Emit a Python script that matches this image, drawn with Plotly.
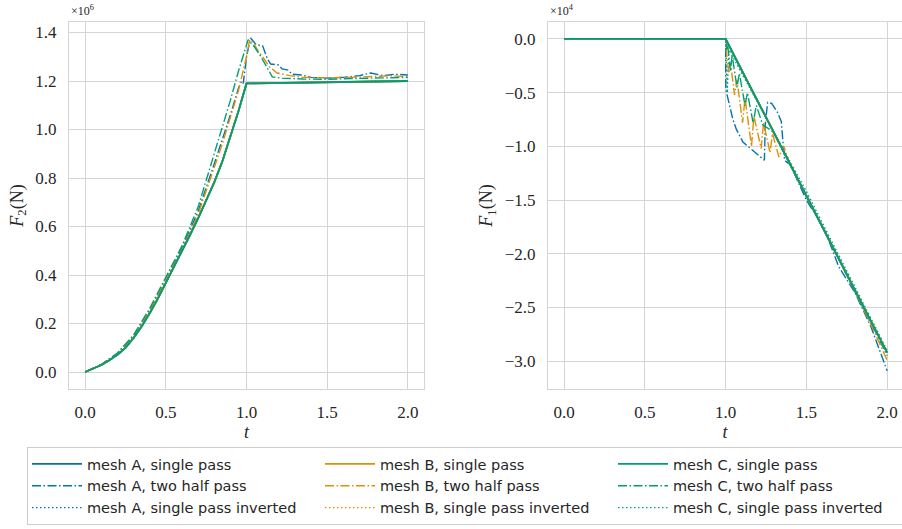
import plotly.graph_objects as go

# ---------------- data ----------------
# F2 (units of 1e6 N) versus t
t_rise = [0.00, 0.05, 0.10, 0.15, 0.20, 0.25, 0.30, 0.35, 0.40, 0.45, 0.50,
          0.55, 0.60, 0.65, 0.70, 0.75, 0.80, 0.85, 0.90, 0.95, 1.00,
          1.25, 1.50, 1.75, 2.00]
f2_single = [0.000, 0.013, 0.029, 0.048, 0.071, 0.099, 0.140, 0.188, 0.242, 0.302, 0.367,
             0.432, 0.498, 0.565, 0.634, 0.705, 0.782, 0.868, 0.968, 1.075, 1.190,
             1.192, 1.195, 1.198, 1.200]

t2_A = [0.00, 0.10, 0.20, 0.30, 0.40, 0.50, 0.60, 0.70, 0.80, 0.85, 0.90, 0.95, 0.97,
        0.98, 1.00, 1.025, 1.06, 1.10, 1.13, 1.15, 1.20, 1.22, 1.26, 1.28, 1.34,
        1.40, 1.50, 1.60, 1.70, 1.77, 1.85, 1.92, 2.00]
f2_two_A = [0.000, 0.030, 0.075, 0.148, 0.255, 0.380, 0.512, 0.662, 0.858, 0.955, 1.060,
            1.170, 1.200, 1.190, 1.300, 1.377, 1.350, 1.345, 1.290, 1.270, 1.266, 1.250,
            1.245, 1.228, 1.225, 1.215, 1.212, 1.215, 1.222, 1.233, 1.222, 1.228, 1.225]

t2_B = [0.00, 0.10, 0.20, 0.30, 0.40, 0.50, 0.60, 0.70, 0.80, 0.85, 0.90, 0.95,
        1.00, 1.02, 1.04, 1.075, 1.10, 1.14, 1.19, 1.27, 1.35, 1.50, 1.65, 1.80,
        1.90, 2.00]
f2_two_B = [0.000, 0.030, 0.076, 0.150, 0.254, 0.378, 0.505, 0.650, 0.840, 0.940, 1.050,
            1.160, 1.300, 1.370, 1.360, 1.320, 1.300, 1.260, 1.233, 1.222, 1.215, 1.213,
            1.215, 1.218, 1.222, 1.218]

t2_C = [0.00, 0.10, 0.20, 0.30, 0.40, 0.50, 0.60, 0.70, 0.80, 0.85, 0.90, 0.95,
        1.00, 1.01, 1.05, 1.09, 1.16, 1.22, 1.35, 1.50, 1.65, 1.80, 1.90, 2.00]
f2_two_C = [0.000, 0.031, 0.078, 0.152, 0.262, 0.388, 0.520, 0.680, 0.900, 1.000, 1.120,
            1.240, 1.350, 1.370, 1.340, 1.300, 1.217, 1.212, 1.208, 1.207, 1.210, 1.212,
            1.214, 1.215]

# F1 (units of 1e4 N) versus t
t1_single = [0.0, 1.0, 1.5, 2.0]
f1_single = [0.0, 0.0, -1.46, -2.92]

t1_A = [0.0, 1.0, 1.001, 1.025, 1.045, 1.066, 1.097, 1.107, 1.24, 1.245, 1.26, 1.285,
        1.32, 1.345, 1.35, 1.357, 1.365, 1.40, 1.50, 1.60, 1.65, 1.70, 1.80, 1.90,
        1.95, 2.00]
f1_two_A = [0.0, 0.0, -0.47, -0.62, -0.75, -0.84, -0.93, -0.96, -1.13, -0.80, -0.59,
            -0.60, -0.68, -0.77, -0.87, -1.03, -1.13, -1.17, -1.50, -1.74, -1.92, -2.12,
            -2.36, -2.68, -2.88, -3.09]

t1_B = [0.0, 1.0, 1.005, 1.02, 1.03, 1.055, 1.07, 1.105, 1.12, 1.16, 1.175, 1.22,
        1.235, 1.275, 1.29, 1.33, 1.36, 1.40, 1.50, 1.60, 1.70, 1.80, 1.90, 2.00]
f1_two_B = [0.0, 0.0, -0.12, -0.32, -0.22, -0.52, -0.38, -0.78, -0.55, -1.00, -0.72,
            -1.02, -0.78, -1.06, -0.88, -1.10, -1.00, -1.18, -1.46, -1.75, -2.05, -2.35,
            -2.66, -2.99]

t1_C = [0.0, 1.0, 1.005, 1.01, 1.03, 1.04, 1.07, 1.085, 1.12, 1.135, 1.17, 1.19,
        1.23, 1.28, 1.30, 1.40, 1.50, 1.60, 1.70, 1.80, 1.90, 2.00]
f1_two_C = [0.0, 0.0, -0.10, -0.02, -0.30, -0.15, -0.45, -0.32, -0.62, -0.50, -0.78,
            -0.62, -0.80, -0.85, -0.88, -1.17, -1.47, -1.76, -2.05, -2.35, -2.64, -2.95]

t1_inv_C = [0.0, 1.0, 1.01, 1.02, 1.5, 2.0]
f1_inv_C = [0.0, 0.0, -0.50, -0.10, -1.42, -2.90]

meshes = ["A", "B", "C"]
colors = {"A": "#0173b2", "B": "#de8f05", "C": "#029e73"}

left_two = {"A": (t2_A, f2_two_A), "B": (t2_B, f2_two_B), "C": (t2_C, f2_two_C)}
right_two = {"A": (t1_A, f1_two_A), "B": (t1_B, f1_two_B), "C": (t1_C, f1_two_C)}
left_inv = {m: (t_rise, f2_single) for m in meshes}
right_inv = {"A": (t1_single, f1_single), "B": (t1_single, f1_single),
             "C": (t1_inv_C, f1_inv_C)}
left_single = {m: (t_rise, f2_single) for m in meshes}
right_single = {m: (t1_single, f1_single) for m in meshes}

# (label, dash pattern, width, left data, right data, position inside a legend column)
styles = [
    ("single pass inverted", "1.5px,2.5px", 1.4, left_inv, right_inv, 2),
    ("two half pass", "9px,2.5px,1.5px,2.5px", 1.4, left_two, right_two, 1),
    ("single pass", "solid", 1.8, left_single, right_single, 0),
]

fig = go.Figure()
for label, dash, width, ldata, rdata, row in styles:
    for j, m in enumerate(meshes):
        name = f"mesh {m}, {label}"
        lx, ly = ldata[m]
        rx, ry = rdata[m]
        fig.add_trace(go.Scatter(
            x=lx, y=ly, mode="lines", name=name, legendgroup=f"mesh {m}",
            legendrank=j * 3 + row + 1,
            line=dict(color=colors[m], width=width, dash=dash),
            xaxis="x", yaxis="y"))
        fig.add_trace(go.Scatter(
            x=rx, y=ry, mode="lines", name=name, legendgroup=f"mesh {m}",
            showlegend=False,
            line=dict(color=colors[m], width=width, dash=dash),
            xaxis="x2", yaxis="y2"))

W, H = 902, 529
grid = "#d5d5d5"
SERIF = "Liberation Serif"
TXT = "#262626"


def px_x(p):
    return p / W


def px_y(p):
    return 1 - p / H


def axis(domain, rng, dtick, anchor, mirror, title, standoff):
    return dict(
        domain=domain, range=rng, dtick=dtick, anchor=anchor, mirror=mirror,
        showgrid=True, gridcolor=grid, gridwidth=1, zeroline=False,
        showline=True, linecolor=grid, linewidth=1, ticks="",
        tickfont=dict(family=SERIF, size=17, color=TXT),
        tickformat=".1f", ticklabelstandoff=8, automargin=False,
        title=dict(text=title, font=dict(family=SERIF, size=18, color=TXT),
                   standoff=standoff),
    )


fig.update_layout(
    width=W, height=H,
    margin=dict(l=0, r=0, t=0, b=0, autoexpand=False),
    paper_bgcolor="white", plot_bgcolor="white",
    showlegend=True,
    xaxis=axis([px_x(69), px_x(424)], [-0.1, 2.1], 0.5, "y", True, "<i>t</i>", 3),
    yaxis=axis([px_y(389), px_y(22)], [-0.0701, 1.4433], 0.2, "x", True,
               "<i>F</i><sub>2</sub>(N)", 7),
    xaxis2=axis([px_x(548), 1.0], [-0.1, 2.092], 0.5, "y2", True, "<i>t</i>", 3),
    yaxis2=axis([px_y(389), px_y(22)], [-3.259, 0.158], 0.5, "x2", False,
                "<i>F</i><sub>1</sub>(N)", 7),
    legend=dict(orientation="h", xref="container", yref="container",
                x=px_x(27), y=px_y(447), xanchor="left", yanchor="top",
                traceorder="grouped", tracegroupgap=10, itemwidth=50,
                entrywidth=228, entrywidthmode="pixels",
                bordercolor="#cccccc", borderwidth=1, bgcolor="white",
                font=dict(family="DejaVu Sans", size=14.5, color=TXT)),
    annotations=[
        dict(text="×10<sup>6</sup>", xref="paper", yref="paper",
             x=px_x(69), y=px_y(20), xanchor="left", yanchor="bottom",
             showarrow=False, font=dict(family=SERIF, size=12, color=TXT)),
        dict(text="×10<sup>4</sup>", xref="paper", yref="paper",
             x=px_x(548), y=px_y(20), xanchor="left", yanchor="bottom",
             showarrow=False, font=dict(family=SERIF, size=12, color=TXT)),
    ],
)

fig.write_html("out.html")
